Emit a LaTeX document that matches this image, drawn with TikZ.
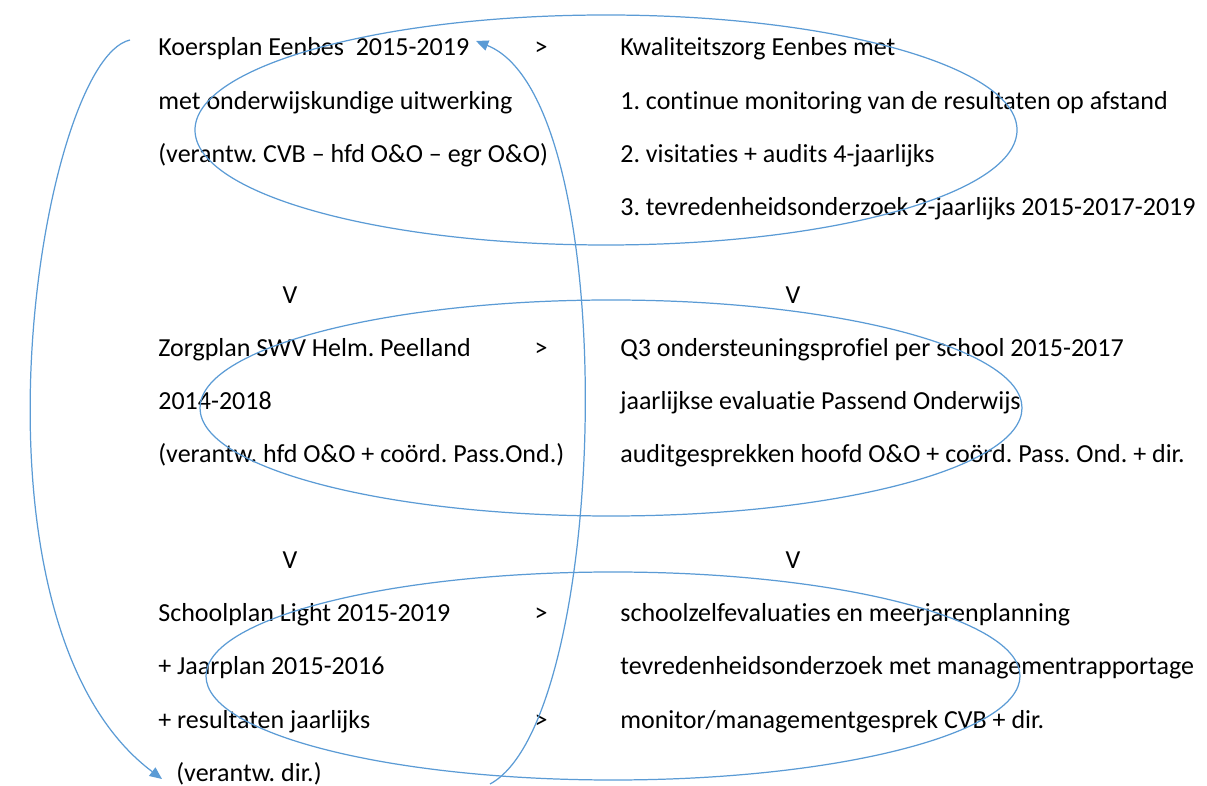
\documentclass[tikz,border=0pt]{standalone}
\usepackage{fontspec}
\setmainfont{Carlito}[Ligatures=NoCommon]
\usetikzlibrary{arrows.meta}
\definecolor{loopblue}{RGB}{91,155,213}
\frenchspacing

\begin{document}
\begin{tikzpicture}%
  [x=0.02cm, y=-0.02cm,
   >={Triangle[length=7pt,width=6pt]},
   textline/.style={anchor=base west, inner sep=0pt, font=\fontsize{14.8}{18}\selectfont},
   sign/.style={anchor=base, inner sep=0pt, font=\fontsize{14.8}{18}\selectfont},
   ring/.style={draw=loopblue, line width=0.7pt},
   loopline/.style={draw=loopblue, line width=0.7pt, ->}
  ]
\useasboundingbox (0,0) rectangle (1207,786);

% row 1
\node[textline] (koers1) at (158,56)  {Koersplan Eenbes\ \ 2015-2019};
\node[textline] (koers2) at (158,110) {met onderwijskundige uitwerking};
\node[textline] (koers3) at (158,163) {(verantw. CVB -- hfd O\&O -- egr O\&O)};
\node[sign]     (to1)    at (541,56)  {>};
\node[textline] (kwal1)  at (620,56)  {Kwaliteitszorg Eenbes met};
\node[textline] (kwal2)  at (620,110) {1. continue monitoring van de resultaten op afstand};
\node[textline] (kwal3)  at (620,163) {2. visitaties + audits 4-jaarlijks};
\node[textline] (kwal4)  at (620,216) {3. tevredenheidsonderzoek 2-jaarlijks 2015-2017-2019};

\node[sign] (down1l) at (290,304) {V};
\node[sign] (down1r) at (793,304) {V};

% row 2
\node[textline] (zorg1)  at (158,357) {Zorgplan SWV Helm. Peelland};
\node[textline] (zorg2)  at (158,410) {2014-2018};
\node[textline] (zorg3)  at (158,463) {(verantw. hfd O\&O + coörd. Pass.Ond.)};
\node[sign]     (to2)    at (541,357) {>};
\node[textline] (q1)     at (620,357) {Q3 ondersteuningsprofiel per school 2015-2017};
\node[textline] (q2)     at (620,410) {jaarlijkse evaluatie Passend Onderwijs};
\node[textline] (q3)     at (620,463) {auditgesprekken hoofd O\&O + coörd. Pass. Ond. + dir.};

\node[sign] (down2l) at (290,569) {V};
\node[sign] (down2r) at (793,569) {V};

% row 3
\node[textline] (school1) at (158,622) {Schoolplan Light 2015-2019};
\node[textline] (school2) at (158,675) {+ Jaarplan 2015-2016};
\node[textline] (school3) at (158,728) {+ resultaten jaarlijks};
\node[textline] (school4) at (176,781) {(verantw. dir.)};
\node[sign]     (to3)     at (541,622) {>};
\node[sign]     (to4)     at (541,728) {>};
\node[textline] (eval1)   at (620,622) {schoolzelfevaluaties en meerjarenplanning};
\node[textline] (eval2)   at (620,675) {tevredenheidsonderzoek met managementrapportage};
\node[textline] (eval3)   at (620,728) {monitor/managementgesprek CVB + dir.};

% rings round the rows
\draw[ring] (606,130) ellipse [x radius=411, y radius=115];
\draw[ring] (611,408) ellipse [x radius=411, y radius=108];
\draw[ring] (613,676) ellipse [x radius=407, y radius=104];

% the two loops
\coordinate (topstart) at (130,40);
\coordinate (downend)  at (162,779);
\coordinate (upstart)  at (490,784);
\coordinate (upend)    at (476,41);

\draw[loopline] (topstart) .. controls (40,60) and (-50,620) .. (downend);
\draw[loopline] (upstart)  .. controls (610,720) and (625,100) .. (upend);
\end{tikzpicture}
\end{document}
